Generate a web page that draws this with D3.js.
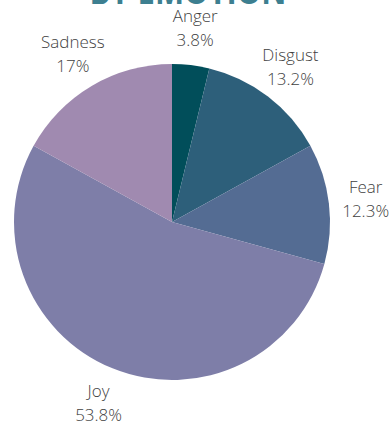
<!DOCTYPE html>
<html>
<head>
<meta charset="utf-8">
<script src="https://cdn.jsdelivr.net/npm/d3@7"></script>
<style>
  html, body { margin: 0; padding: 0; background: #ffffff; }
  svg { display: block; }
</style>
</head>
<body>
<div id="chart"></div>
<script>
// Share of posts by emotion
const emotions = ["Anger", "Disgust", "Fear", "Joy", "Sadness"];
const shares = [3.8, 13.2, 12.3, 53.8, 17];
const sliceColors = ["#014e5a", "#2d5f7a", "#546c93", "#7e7ea8", "#a08ab0"];
const titleText = "BY EMOTION";

const width = 391, height = 426;
const cx = 172, cy = 222, radius = 158, labelRadius = 195;

const svg = d3.select("#chart").append("svg")
  .attr("width", width)
  .attr("height", height);

// Title (upper part runs off the top edge)
svg.append("text")
  .attr("x", 188)
  .attr("y", 4)
  .attr("text-anchor", "middle")
  .attr("font-family", "'Open Sans', sans-serif")
  .attr("font-weight", 700)
  .attr("font-size", 36)
  .attr("textLength", 197)
  .attr("lengthAdjust", "spacingAndGlyphs")
  .attr("fill", "#3d7f90")
  .text(titleText);

const color = d3.scaleOrdinal().domain(emotions).range(sliceColors);

const pie = d3.pie()
  .sort(null)
  .value(d => d.value);

const data = emotions.map((name, i) => ({ name, value: shares[i] }));
const arcs = pie(data);

const arc = d3.arc().innerRadius(0).outerRadius(radius);
const labelArc = d3.arc().innerRadius(labelRadius).outerRadius(labelRadius);

const g = svg.append("g").attr("transform", `translate(${cx},${cy})`);

g.selectAll("path.slice")
  .data(arcs)
  .join("path")
  .attr("class", "slice")
  .attr("d", arc)
  .attr("fill", d => color(d.data.name));

const labels = g.selectAll("text.label")
  .data(arcs)
  .join("text")
  .attr("class", "label")
  .attr("text-anchor", "middle")
  .attr("font-family", "'Open Sans', sans-serif")
  .attr("font-weight", 300)
  .attr("font-size", 17)
  .attr("fill", "#3f3f3f")
  .attr("transform", d => {
    const [x, y] = labelArc.centroid(d);
    return `translate(${x},${y})`;
  });

labels.append("tspan")
  .attr("x", 0)
  .attr("y", -6)
  .text(d => d.data.name);

labels.append("tspan")
  .attr("x", 0)
  .attr("y", 18)
  .text(d => d.data.value + "%");
</script>
</body>
</html>
